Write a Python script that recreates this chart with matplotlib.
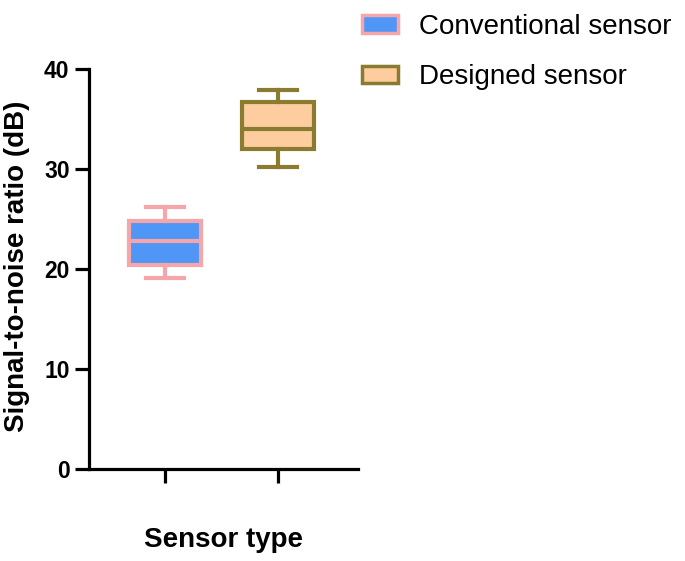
import matplotlib
matplotlib.use("Agg")
import matplotlib.pyplot as plt
from matplotlib.patches import Patch

plt.rcParams['font.family'] = ['Liberation Sans', 'DejaVu Sans']

categories = ["Conventional sensor", "Designed sensor"]
# box stats: whisker low, Q1, median, Q3, whisker high
whislo = [19.1, 30.2]
q1 = [20.4, 32.0]
med = [22.8, 34.0]
q3 = [24.8, 36.7]
whishi = [26.2, 37.9]
face_colors = ["#4F96F6", "#FDCDA0"]
edge_colors = ["#F4A6AB", "#8A7B30"]
y_ticks = [0, 10, 20, 30, 40]

W, H = 685, 561
fig = plt.figure(figsize=(W/100, H/100), dpi=100)
ax = fig.add_axes([89/W, (H-469)/H, (358-89)/W, 400/H])

for i in range(2):
    stats = [dict(whislo=whislo[i], q1=q1[i], med=med[i], q3=q3[i], whishi=whishi[i], label=categories[i])]
    ec = edge_colors[i]
    ax.bxp(stats, positions=[i], widths=0.64, showfliers=False, patch_artist=True,
           boxprops=dict(facecolor=face_colors[i], edgecolor=ec, linewidth=3),
           medianprops=dict(color=ec, linewidth=3),
           whiskerprops=dict(color=ec, linewidth=3),
           capprops=dict(color=ec, linewidth=3), capwidths=0.34)

ax.set_xlim(-0.673, 1.708)
ax.set_ylim(0, 40)
ax.set_yticks(y_ticks)
ax.set_xticks([0, 1])
ax.set_xticklabels(["", ""])
for s in ["top", "right"]:
    ax.spines[s].set_visible(False)
for s in ["left", "bottom"]:
    ax.spines[s].set_linewidth(2.3)
ax.tick_params(axis='both', width=2.3, length=10, labelsize=16.5, pad=4)
for lab in ax.get_yticklabels():
    lab.set_fontweight('bold')

fig.text(17/W, 1 - 266/H, "Signal-to-noise ratio (dB)", rotation=90, ha='center', va='center',
         fontsize=20, fontweight='bold')
fig.text(223.5/W, 1 - 540/H, "Sensor type", ha='center', va='center',
         fontsize=20, fontweight='bold')

handles = [Patch(facecolor=face_colors[i], edgecolor=edge_colors[i], linewidth=2.5, label=categories[i]) for i in range(2)]
fig.legend(handles=handles, loc='upper left', bbox_to_anchor=(362/W, 1 - 14/H), frameon=False,
           borderpad=0, borderaxespad=0,
           fontsize=20, handlelength=1.3, handleheight=0.6, labelspacing=0.88, handletextpad=0.75)

fig.savefig("out.png", dpi=100)
